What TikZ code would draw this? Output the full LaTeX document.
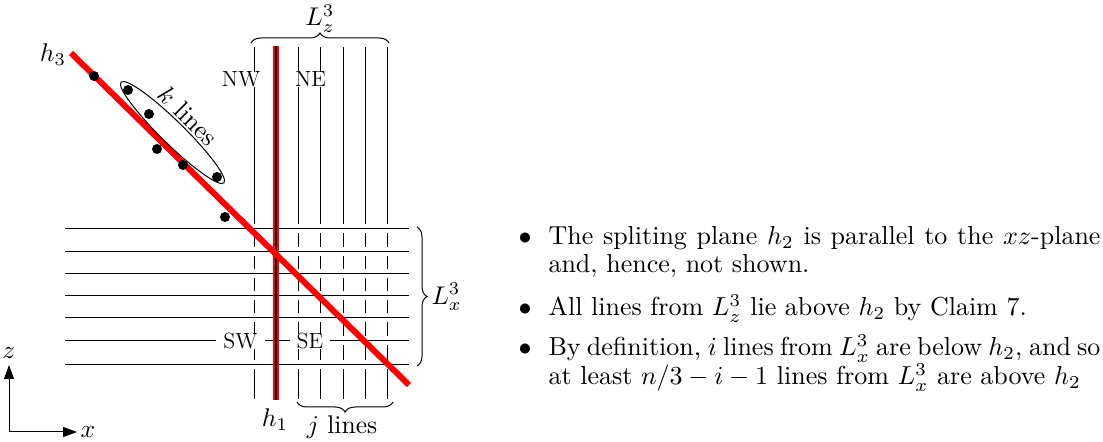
\documentclass[tikz,border=0pt]{standalone}
\usetikzlibrary{arrows.meta,decorations.pathreplacing,shapes.geometric}
\begin{document}
\begin{tikzpicture}[x=0.5pt,y=-0.5pt,
  every node/.style={font=\fontsize{12}{14.5}\selectfont},
  thinline/.style={line width=0.5pt},
  hline/.style={line width=0.5pt, preaction={draw=white, line width=4.5pt}},
  redline/.style={red, line width=3pt},
  region/.style={fill=white, inner xsep=3.5pt, inner ysep=0pt, anchor=base, font=\fontsize{11}{13}\selectfont},
  dot/.style={fill=black, circle, inner sep=0pt, minimum size=5pt},
  lab/.style={inner sep=0pt, font=\fontsize{10}{12}\selectfont, scale=1.28, transform shape},
  txt/.style={anchor=base west, inner sep=0pt, font=\fontsize{10}{12}\selectfont, scale=1.3, transform shape},
  bul/.style={anchor=base, inner sep=0pt, font=\fontsize{10}{12}\selectfont, scale=1.3, transform shape},
  bracedec/.style={decorate, decoration={brace, amplitude=5pt}, line width=0.5pt}
]
\useasboundingbox (0,0) rectangle (1103,442);

% vertical lines of L_z^3
\foreach \vx [count=\i] in {254,298,320,343,365,387}
  \draw[thinline] (\vx,47) coordinate (vt\i) -- (\vx,399) coordinate (vb\i);

% horizontal lines of L_x^3
\foreach \hy [count=\i] in {229,252,274,296,318,340.5,365}
  \draw[hline] (65,\hy) coordinate (hl\i) -- (409,\hy) coordinate (hr\i);

% h1 (red vertical)
\coordinate (h1t) at (276,46);
\coordinate (h1b) at (276,400);
\draw[redline] (h1t) -- (h1b);
\draw[line width=0.6pt] (h1t) -- (h1b);

% h3 (red diagonal)
\coordinate (h3s) at (71,53);
\coordinate (h3e) at (409,385);
\draw[redline] (h3s) -- (h3e);

% region labels
\node[region] (nw) at (241,87) {NW};
\node[region] (ne) at (310.5,87) {NE};
\node[region] (sw) at (240.5,349) {SW};
\node[region] (se) at (310,349) {SE};

% dots
\foreach \dx/\dy [count=\i] in {94/76,128/90,149/114,157/149,183/165,217/177,225/217}
  \node[dot] (d\i) at (\dx,\dy) {};

% ellipse around k lines
\node[draw, ellipse, line width=0.5pt, rotate=-44.4, minimum width=72pt, minimum height=11.5pt, inner sep=0pt] (kell) at (172.5,132.5) {};
\node[lab, rotate=-45] (klab) at (188,116) {$k$ lines};

% braces
\coordinate (bzl) at (251,43);
\coordinate (bzr) at (389,43);
\draw[bracedec] (bzl) -- (bzr);
\node[lab, anchor=base] (lz) at (320,26) {$L_z^3$};

\coordinate (bxt) at (417,227);
\coordinate (bxb) at (417,366);
\draw[bracedec] (bxt) -- (bxb);
\node[lab, anchor=west] (lx) at (431,297) {$L_x^3$};

\coordinate (bjr) at (393,402);
\coordinate (bjl) at (297,402);
\draw[bracedec] (bjr) -- (bjl);
\node[lab, anchor=base] (jl) at (342,434) {$j$ lines};

\node[lab, anchor=base] (h1lab) at (275,427) {$h_1$};
\node[lab, anchor=base] (h3lab) at (53,62) {$h_3$};

% axes
\coordinate (o) at (9,432);
\coordinate (zt) at (9,365);
\coordinate (xt) at (77,432);
\draw[line width=0.5pt, -{Triangle[length=7pt,width=5pt]}] (o) -- (zt);
\draw[line width=0.5pt, -{Triangle[length=7pt,width=5pt]}] (o) -- (xt);
\node[lab] (zlab) at (9,353) {$z$};
\node[lab] (xlab) at (88,432) {$x$};

% text
\node[bul] (b1) at (525,245) {$\bullet$};
\node[txt] (t1a) at (548,245) {\hbox to 212.3pt{The spliting plane $h_2$ is parallel to the $xz$-plane}};
\node[txt] (t1b) at (548,272.5) {and, hence, not shown.};
\node[bul] (b2) at (525,316) {$\bullet$};
\node[txt] (t2) at (548,316) {All lines from $L_z^3$ lie above $h_2$ by Claim 7.};
\node[bul] (b3) at (525,356) {$\bullet$};
\node[txt] (t3a) at (548,356) {\hbox to 212.3pt{By definition, $i$ lines from $L_x^3$ are below $h_2$, and so}};
\node[txt] (t3b) at (548,385) {at least $n/3-i-1$ lines from $L_x^3$ are above $h_2$};
\end{tikzpicture}
\end{document}
